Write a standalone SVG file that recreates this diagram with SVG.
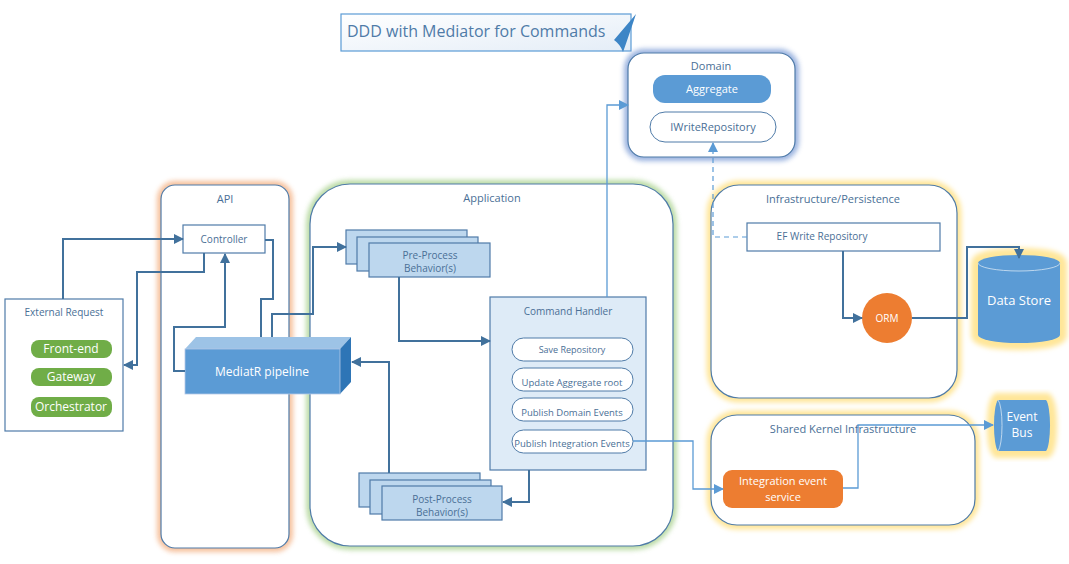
<svg xmlns="http://www.w3.org/2000/svg" width="1069" height="564" viewBox="0 0 1069 564">
<defs>
<filter id="blur" x="-20%" y="-20%" width="140%" height="140%"><feGaussianBlur stdDeviation="2.5"/></filter>
<linearGradient id="tg" x1="0" y1="0" x2="1" y2="1"><stop offset="0" stop-color="#ffffff"/><stop offset="1" stop-color="#e4edf7"/></linearGradient>
<marker id="ad" viewBox="0 0 10 10" refX="9" refY="5" markerWidth="10" markerHeight="10" markerUnits="userSpaceOnUse" orient="auto"><path d="M0,0 L10,5 L0,10 z" fill="#41719c"/></marker>
<marker id="al" viewBox="0 0 10 10" refX="9" refY="5" markerWidth="10" markerHeight="10" markerUnits="userSpaceOnUse" orient="auto"><path d="M0,0 L10,5 L0,10 z" fill="#5b9bd5"/></marker>
<style>
text{font-family:"Open Sans","Liberation Sans",sans-serif;fill:#4a6f96;text-anchor:middle}
.cont{fill:#ffffff;stroke:#4f7ba8;stroke-width:1.2}
.box{fill:#ffffff;stroke:#4f7ba8;stroke-width:1.2}
.beh{fill:#bdd7ee;stroke:#4f7ba8;stroke-width:1.2}
.pill{fill:#ffffff;stroke:#4f7ba8;stroke-width:1}
.gpill{fill:#70ad47;stroke:none}
.wt{fill:#ffffff}
.c{fill:none;stroke:#41719c;stroke-width:2}
.cl{fill:none;stroke:#5b9bd5;stroke-width:1.3}
.s{font-size:10px}
.m{font-size:11px}
.l{font-size:12px}
</style>
</defs>

<g id="title">
<rect x="341" y="14" width="290" height="37" fill="url(#tg)" stroke="#5b9bd5" stroke-width="1.2"/>
<path d="M636,14 L614,40 Q620,44 623,52 Q626,44 636,14 z" fill="#3d85c6"/>
<text x="347" y="37" style="font-size:16px;fill:#4f7ba8;text-anchor:start">DDD with Mediator for Commands</text>
</g>

<g id="api">
<rect x="161" y="185" width="128" height="363" rx="14" fill="none" stroke="#f4b183" stroke-width="8" filter="url(#blur)" opacity="0.8"/>
<rect class="cont" x="161" y="185" width="128" height="363" rx="14"/>
<text class="m" x="225" y="203">API</text>
</g>

<g id="application">
<rect x="310" y="184" width="363" height="362" rx="40" fill="none" stroke="#a9d18e" stroke-width="8" filter="url(#blur)" opacity="0.8"/>
<rect class="cont" x="310" y="184" width="363" height="362" rx="40"/>
<text class="m" x="492" y="202">Application</text>
</g>

<g id="domain">
<rect x="628" y="53" width="167" height="104" rx="16" fill="none" stroke="#8faadc" stroke-width="8" filter="url(#blur)" opacity="0.9"/>
<rect class="cont" x="628" y="53" width="167" height="104" rx="16"/>
<text class="m" x="711" y="70">Domain</text>
</g>

<g id="aggregate">
<rect x="653" y="75" width="118" height="28" rx="12" fill="#5b9bd5"/>
<text class="m wt" x="712" y="93">Aggregate</text>
</g>

<g id="iwriterepository">
<rect class="pill" x="650" y="112" width="126" height="30" rx="15"/>
<text class="m" x="713" y="131">IWriteRepository</text>
</g>

<g id="infrastructure">
<rect x="711" y="185" width="246" height="213" rx="28" fill="none" stroke="#ffe699" stroke-width="9" filter="url(#blur)"/>
<rect class="cont" x="711" y="185" width="246" height="213" rx="28"/>
<text class="m" x="833" y="203">Infrastructure/Persistence</text>
</g>

<g id="efwriterepository">
<rect class="box" x="747" y="223" width="193" height="28"/>
<text class="s" x="822" y="240">EF Write Repository</text>
</g>

<g id="orm">
<circle cx="887" cy="318" r="25" fill="#ed7d31"/>
<text class="s wt" x="887" y="322">ORM</text>
</g>

<g id="datastore">
<path d="M978,263 L978,335 A41,8 0 0 0 1060,335 L1060,263 A41,8 0 0 0 978,263 z" fill="none" stroke="#ffe699" stroke-width="14" filter="url(#blur)"/>
<path d="M978,263 L978,335 A41,8 0 0 0 1060,335 L1060,263 A41,8 0 0 0 978,263 z" fill="#5b9bd5"/>
<path d="M978,263 A41,8 0 0 0 1060,263" fill="none" stroke="#bdd7ee" stroke-width="1"/>
<text x="1019" y="305" class="wt" style="font-size:13px">Data Store</text>
</g>

<g id="sharedkernel">
<rect x="711" y="415" width="264" height="110" rx="26" fill="none" stroke="#ffe699" stroke-width="9" filter="url(#blur)"/>
<rect class="cont" x="711" y="415" width="264" height="110" rx="26"/>
<text class="m" x="843" y="433">Shared Kernel Infrastructure</text>
</g>

<g id="integrationeventservice">
<rect x="723" y="470" width="120" height="38" rx="9" fill="#ed7d31"/>
<text class="m wt" x="783" y="485">Integration event</text>
<text class="m wt" x="783" y="501">service</text>
</g>

<g id="eventbus">
<path d="M998,400 L1046,400 A5,26 0 0 1 1046,451 L998,451 A5,26 0 0 1 998,400 z" fill="none" stroke="#ffe699" stroke-width="14" filter="url(#blur)"/>
<path d="M998,400 L1046,400 A5,26 0 0 1 1046,451 L998,451 A5,26 0 0 1 998,400 z" fill="#5b9bd5"/>
<path d="M998,400 A5,26 0 0 1 998,451" fill="none" stroke="#bdd7ee" stroke-width="1"/>
<text class="l wt" x="1022" y="421">Event</text>
<text class="l wt" x="1022" y="437">Bus</text>
</g>

<g id="externalrequest">
<rect class="box" x="5" y="299" width="118" height="132"/>
<text class="s" x="64" y="316">External Request</text>
</g>
<g id="frontend">
<rect class="gpill" x="31" y="340" width="81" height="18" rx="8"/>
<text class="l wt" x="71" y="353">Front-end</text>
</g>
<g id="gateway">
<rect class="gpill" x="31" y="368" width="81" height="18" rx="8"/>
<text class="l wt" x="71" y="381">Gateway</text>
</g>
<g id="orchestrator">
<rect class="gpill" x="31" y="397" width="81" height="20" rx="8"/>
<text class="l wt" x="71" y="411">Orchestrator</text>
</g>

<g id="controller">
<rect class="box" x="183" y="225" width="82" height="28"/>
<text class="s" x="224" y="243">Controller</text>
</g>

<g id="mediatr">
<polygon points="185,349 196,337 351,337 340,349" fill="#9dc3e6"/>
<polygon points="340,349 351,337 351,382 340,394" fill="#2e75b6"/>
<rect x="185" y="349" width="155" height="45" fill="#5b9bd5" stroke="#b4c7e7" stroke-width="0.8"/>
<text class="l wt" x="262" y="376">MediatR pipeline</text>
</g>

<g id="preprocess">
<rect class="beh" x="346" y="230" width="121" height="34"/>
<rect class="beh" x="357" y="237" width="121" height="34"/>
<rect class="beh" x="369" y="243" width="121" height="34"/>
<text class="s" x="430" y="259">Pre-Process</text>
<text class="s" x="430" y="272">Behavior(s)</text>
</g>

<g id="commandhandler">
<rect x="490" y="297" width="156" height="173" fill="#deebf7" stroke="#4f7ba8" stroke-width="1.2"/>
<text class="s" x="568" y="315">Command Handler</text>
<rect class="pill" x="512" y="338" width="121" height="23" rx="11.5"/>
<text class="s" x="572" y="353" style="font-size:9px">Save Repository</text>
<rect class="pill" x="512" y="368" width="121" height="23" rx="11.5"/>
<text class="s" x="572" y="386" style="font-size:9.5px">Update Aggregate root</text>
<rect class="pill" x="512" y="398" width="121" height="23" rx="11.5"/>
<text class="s" x="572" y="416" style="font-size:9.5px">Publish Domain Events</text>
<rect class="pill" x="512" y="430" width="121" height="23" rx="11.5"/>
<text class="s" x="572" y="447" style="font-size:9.5px">Publish Integration Events</text>
</g>

<g id="postprocess">
<rect class="beh" x="359" y="473" width="121" height="34"/>
<rect class="beh" x="370" y="480" width="121" height="34"/>
<rect class="beh" x="382" y="486" width="120" height="34"/>
<text class="s" x="442" y="503">Post-Process</text>
<text class="s" x="442" y="516">Behavior(s)</text>
</g>

<g id="connectors">
<path class="c" d="M63,299 L63,239 L183,239" marker-end="url(#ad)"/>
<path class="c" d="M204,253 L204,272 L137,272 L137,365 L124,365" marker-end="url(#ad)"/>
<path class="c" d="M185,371 L174,371 L174,327 L225,327 L225,254" marker-end="url(#ad)"/>
<path class="c" d="M265,240 L273,240 L273,299 L261,299 L261,337"/>
<path class="c" d="M272,337 L272,314 L313,314 L313,247 L346,247" marker-end="url(#ad)"/>
<path class="c" d="M399,277 L399,341 L490,341" marker-end="url(#ad)"/>
<path class="c" d="M529,470 L529,502 L503,502" marker-end="url(#ad)"/>
<path class="c" d="M389,473 L389,362 L352,362" marker-end="url(#ad)"/>
<path class="cl" d="M607,297 L607,105 L628,105" marker-end="url(#al)"/>
<path fill="none" stroke="#5b9bd5" stroke-width="1.2" stroke-dasharray="5,4" d="M747,237 L713,237 L713,143" marker-end="url(#al)"/>
<path class="c" d="M843,251 L843,318 L862,318" marker-end="url(#ad)"/>
<path class="c" d="M912,318 L967,318 L967,247 L1019,247 L1019,258" marker-end="url(#ad)"/>
<path class="cl" d="M633,441 L693,441 L693,489 L723,489" marker-end="url(#al)"/>
<path class="cl" d="M843,488 L858,488 L858,425 L993,425" marker-end="url(#al)"/>
</g>
</svg>
